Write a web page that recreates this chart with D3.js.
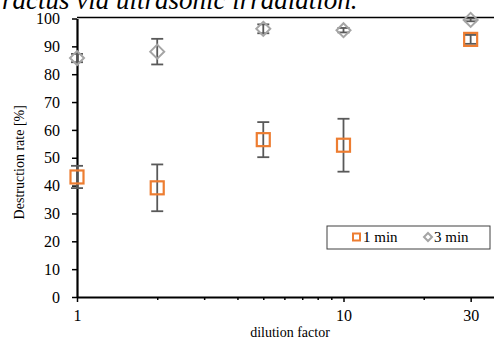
<!DOCTYPE html>
<html>
<head>
<meta charset="utf-8">
<script src="https://cdn.jsdelivr.net/npm/d3@7"></script>
<style>
  body { margin: 0; background: #fff; }
</style>
</head>
<body>
<div id="chart"></div>
<script>
// Data.
const dilution = [1, 2, 5, 10, 30];
const oneMin = [43.1, 39.2, 56.5, 54.5, 92.5];
const oneMinErr = [4.0, 8.4, 6.3, 9.5, 1.6];
const threeMin = [85.8, 88.1, 96.3, 95.8, 99.5];
const threeMinErr = [1.5, 4.6, 1.6, 0.8, 0.5];
const xTicks = [1, 10, 30];
const xMinorTicks = [2, 3, 4, 5, 6, 7, 8, 9, 20];
const yTicks = [0, 10, 20, 30, 40, 50, 60, 70, 80, 90, 100];

const W = 494, H = 340;
const margin = { top: 17.5, left: 77, bottom: 297 };
const serif = '"Liberation Serif"';

const svg = d3.select("#chart").append("svg")
  .attr("width", W)
  .attr("height", H)
  .style("display", "block");

// Scales: log x from 1 to 40 (right part runs off the picture).
const x = d3.scaleLog().domain([1, 40]).range([margin.left, margin.left + Math.log10(40) * 266.5]);
const y = d3.scaleLinear().domain([0, 100]).range([margin.bottom, margin.top + 1]);

// Cut-off caption line above the chart.
svg.append("text")
  .attr("x", 2)
  .attr("y", 9)
  .style("font-family", serif)
  .style("font-style", "italic")
  .style("font-size", "27px")
  .text("ractus via ultrasonic irradiation.");

// Top border of the plot area.
svg.append("line")
  .attr("x1", margin.left).attr("x2", W)
  .attr("y1", margin.top).attr("y2", margin.top)
  .attr("stroke", "#000").attr("stroke-width", 1.5);

// Y axis.
const yAxis = svg.append("g")
  .attr("transform", `translate(${margin.left},0)`)
  .call(d3.axisLeft(y).tickValues(yTicks).tickSize(5).tickPadding(12).tickSizeOuter(0));
yAxis.select(".domain").attr("stroke-width", 2.2);
yAxis.selectAll(".tick line").attr("stroke-width", 1.5);
yAxis.selectAll("text").style("font-size", "16px").style("font-family", serif).attr("fill", "#000");

// X axis (minor ticks then major ticks).
const xMinor = svg.append("g")
  .attr("transform", `translate(0,${margin.bottom})`)
  .call(d3.axisBottom(x).tickValues(xMinorTicks).tickSize(3).tickFormat(""));
xMinor.select(".domain").remove();
xMinor.selectAll(".tick line").attr("stroke-width", 1.5);

const xAxis = svg.append("g")
  .attr("transform", `translate(0,${margin.bottom})`)
  .call(d3.axisBottom(x).tickValues(xTicks).tickSize(5).tickPadding(8).tickFormat(d3.format("d")).tickSizeOuter(0));
xAxis.select(".domain").attr("stroke-width", 2.2);
xAxis.selectAll(".tick line").attr("stroke-width", 1.5);
xAxis.selectAll("text").style("font-size", "16px").style("font-family", serif).attr("fill", "#000");

// Axis titles.
svg.append("text")
  .attr("transform", `translate(24,${(margin.top + margin.bottom) / 2 + 5}) rotate(-90)`)
  .attr("text-anchor", "middle")
  .style("font-family", serif)
  .style("font-size", "14px")
  .text("Destruction rate [%]");

svg.append("text")
  .attr("x", 290)
  .attr("y", 337)
  .attr("text-anchor", "middle")
  .style("font-family", serif)
  .style("font-size", "14px")
  .text("dilution factor");

// Error bars.
const drawErr = function (vals, errs) {
  const g = svg.append("g").attr("stroke", "#595959").attr("stroke-width", 1.8);
  dilution.forEach((d, i) => {
    const cx = x(d), top = y(vals[i] + errs[i]), bot = y(vals[i] - errs[i]);
    g.append("line").attr("x1", cx).attr("x2", cx).attr("y1", top).attr("y2", bot);
    g.append("line").attr("x1", cx - 6).attr("x2", cx + 6).attr("y1", top).attr("y2", top);
    g.append("line").attr("x1", cx - 6).attr("x2", cx + 6).attr("y1", bot).attr("y2", bot);
  });
};
drawErr(oneMin, oneMinErr);
drawErr(threeMin, threeMinErr);

// Markers.
const sq = 13, dm = 7;
svg.append("g").selectAll("rect")
  .data(dilution)
  .join("rect")
  .attr("x", (d) => x(d) - sq / 2)
  .attr("y", (d, i) => y(oneMin[i]) - sq / 2)
  .attr("width", sq).attr("height", sq)
  .attr("fill", "none")
  .attr("stroke", "#ED7D31")
  .attr("stroke-width", 2.2);

svg.append("g").selectAll("path")
  .data(dilution)
  .join("path")
  .attr("d", (d, i) => {
    const cx = x(d), cy = y(threeMin[i]);
    return `M${cx},${cy - dm}L${cx + dm},${cy}L${cx},${cy + dm}L${cx - dm},${cy}Z`;
  })
  .attr("fill", "none")
  .attr("stroke", "#A5A5A5")
  .attr("stroke-width", 2);

// Legend.
const legend = svg.append("g");
legend.append("rect")
  .attr("x", 327).attr("y", 226)
  .attr("width", 163).attr("height", 23)
  .attr("fill", "#fff")
  .attr("stroke", "#404040").attr("stroke-width", 1);
legend.append("rect")
  .attr("x", 353).attr("y", 233.5)
  .attr("width", 7).attr("height", 7)
  .attr("fill", "none").attr("stroke", "#ED7D31").attr("stroke-width", 2);
legend.append("text")
  .attr("x", 363).attr("y", 242)
  .style("font-family", serif)
  .style("font-size", "15px")
  .text("1 min");
legend.append("path")
  .attr("d", "M428,233L432,237L428,241L424,237Z")
  .attr("fill", "none").attr("stroke", "#A5A5A5").attr("stroke-width", 2);
legend.append("text")
  .attr("x", 434).attr("y", 242)
  .style("font-family", serif)
  .style("font-size", "15px")
  .text("3 min");
</script>
</body>
</html>
